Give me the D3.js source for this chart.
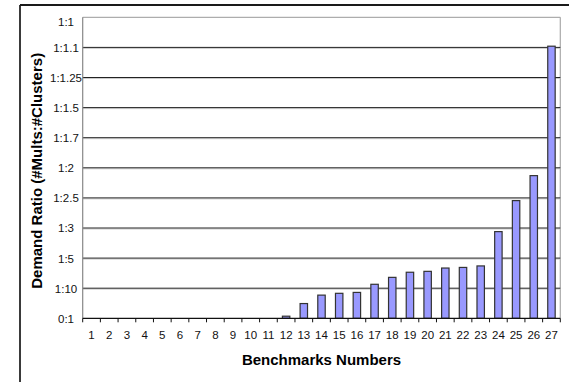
<!DOCTYPE html>
<html>
<head>
<meta charset="utf-8">
<script src="https://cdn.jsdelivr.net/npm/d3@7/dist/d3.min.js"></script>
<style>
  html, body { margin: 0; padding: 0; background: #fff; }
  svg { display: block; font-family: "Liberation Sans", Arial, sans-serif; }
</style>
</head>
<body>
<svg id="chart" width="569" height="382"></svg>
<script>
// ---- data ----
const benchmarks = ["1","2","3","4","5","6","7","8","9","10","11","12","13","14","15","16","17","18","19","20","21","22","23","24","25","26","27"];
const demandValues = [0,0,0,0,0,0,0,0,0,0,0,0.07,0.49,0.77,0.83,0.86,1.13,1.36,1.53,1.56,1.67,1.69,1.74,2.88,3.91,4.74,9.04];
const yTickLabels = ["0:1","1:10","1:5","1:3","1:2.5","1:2","1:1.7","1:1.5","1:1.25","1:1.1","1:1"];
const xTitle = "Benchmarks Numbers";
const yTitle = "Demand Ratio (#Mults:#Clusters)";

(function () {
// ---- layout ----
const svg = d3.select("#chart");
const pLeft = 82.7, pRight = 560.3, pTop = 17.3, pBottom = 318.3;

const xSlots = d3.scaleBand().domain(benchmarks).range([pLeft, pRight]).padding(0);
const x = d3.scaleBand().domain(benchmarks).range([pLeft, pRight]).paddingInner(0.58).paddingOuter(0.29);
const y = d3.scaleLinear().domain([0, yTickLabels.length - 1]).range([pBottom, pTop]);

// outer frame (left and top only visible)
svg.append("line").attr("x1", 20).attr("x2", 20).attr("y1", 5).attr("y2", 382)
  .attr("stroke", "#3a3a3a").attr("stroke-width", 2);
svg.append("line").attr("x1", 20).attr("x2", 569).attr("y1", 5).attr("y2", 5)
  .attr("stroke", "#1a1a1a").attr("stroke-width", 2);

// plot area border (top + right light gray)
svg.append("line").attr("x1", pLeft).attr("x2", pRight).attr("y1", pTop).attr("y2", pTop)
  .attr("stroke", "#999").attr("stroke-width", 1);
svg.append("line").attr("x1", pRight).attr("x2", pRight).attr("y1", pTop).attr("y2", pBottom)
  .attr("stroke", "#aaa").attr("stroke-width", 1.2);

// gridlines
const gridTicks = d3.range(1, yTickLabels.length - 1);
svg.append("g").selectAll("line").data(gridTicks).join("line")
  .attr("x1", pLeft).attr("x2", pRight)
  .attr("y1", d => y(d) + 1).attr("y2", d => y(d) + 1)
  .attr("stroke", "#ccc").attr("stroke-width", 1);
svg.append("g").selectAll("line").data(gridTicks).join("line")
  .attr("x1", pLeft).attr("x2", pRight)
  .attr("y1", d => y(d)).attr("y2", d => y(d))
  .attr("stroke", "#222").attr("stroke-width", 1);

// y axis line
svg.append("line").attr("x1", pLeft).attr("x2", pLeft).attr("y1", pTop).attr("y2", pBottom)
  .attr("stroke", "#888").attr("stroke-width", 1.2);

// bars
svg.append("g").selectAll("rect").data(benchmarks.map((b, i) => ({b, v: demandValues[i]})).filter(d => d.v > 0))
  .join("rect")
  .attr("x", d => x(d.b))
  .attr("width", x.bandwidth())
  .attr("y", d => y(d.v))
  .attr("height", d => y(0) - y(d.v))
  .attr("fill", "#9999ff")
  .attr("stroke", "#333")
  .attr("stroke-width", 1.2);

// x axis
const xAxisG = svg.append("g").attr("transform", `translate(0,${pBottom})`);
xAxisG.call(d3.axisBottom(xSlots).tickSize(0).tickPadding(12.4));
xAxisG.select(".domain").remove();
xAxisG.selectAll("text").attr("font-size", 11.5).attr("fill", "#111")
  .attr("font-family", "\"Liberation Sans\", Arial, sans-serif");
svg.append("line").attr("x1", pLeft).attr("x2", pRight).attr("y1", pBottom).attr("y2", pBottom)
  .attr("stroke", "#111").attr("stroke-width", 1.3);
const bounds = benchmarks.map(b => xSlots(b)).concat([pRight]);
svg.append("g").selectAll("line").data(bounds).join("line")
  .attr("x1", d => d).attr("x2", d => d)
  .attr("y1", pBottom).attr("y2", pBottom + 4)
  .attr("stroke", "#111").attr("stroke-width", 1);

// y labels
const yAxisG = svg.append("g").attr("transform", `translate(66,0)`);
yAxisG.call(d3.axisLeft(y).tickValues(d3.range(yTickLabels.length)).tickFormat(i => yTickLabels[i]).tickSize(0).tickPadding(0));
yAxisG.select(".domain").remove();
yAxisG.selectAll("text")
  .attr("text-anchor", "middle")
  .attr("font-size", 11.5).attr("fill", "#111")
  .attr("font-family", "\"Liberation Sans\", Arial, sans-serif")
  .attr("dy", (d) => d === yTickLabels.length - 1 ? "0.75em" : "0.34em");

// titles
svg.append("text")
  .attr("x", (pLeft + pRight) / 2).attr("y", 365)
  .attr("text-anchor", "middle")
  .attr("font-size", 15).attr("font-weight", "bold").attr("fill", "#000")
  .text(xTitle);
svg.append("text")
  .attr("transform", `translate(42,${(pTop + pBottom) / 2 + 3}) rotate(-90)`)
  .attr("text-anchor", "middle")
  .attr("font-size", 15).attr("font-weight", "bold").attr("fill", "#000")
  .text(yTitle);
})();
</script>
</body>
</html>
